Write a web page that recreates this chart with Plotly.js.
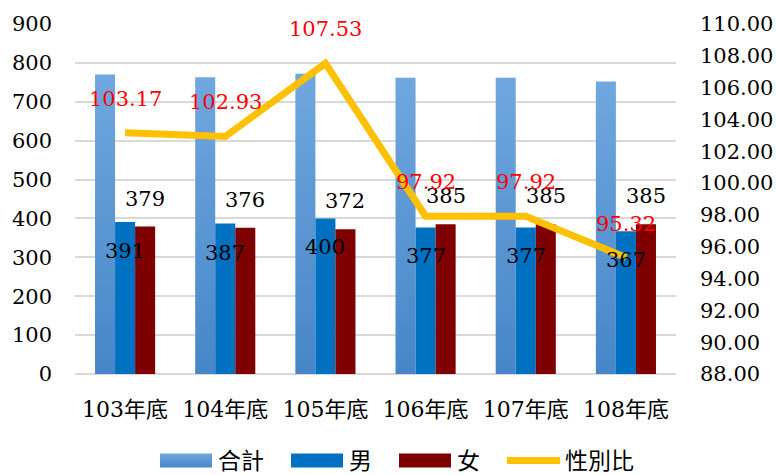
<!DOCTYPE html>
<html>
<head>
<meta charset="utf-8">
<script src="https://cdn.plot.ly/plotly-3.0.1.min.js"></script>
<style>
  body { margin: 0; background: #fff; }
  #chart { width: 776px; height: 475px; }
</style>
</head>
<body>
<div id="chart"></div>
<script>
var years = ['103年底', '104年底', '105年底', '106年底', '107年底', '108年底'];
var total = [770, 763, 772, 762, 762, 752];
var male = [391, 387, 400, 377, 377, 367];
var female = [379, 376, 372, 385, 385, 385];
var ratio = [103.17, 102.93, 107.53, 97.92, 97.92, 95.32];

var serif = '"DejaVu Serif", "Noto Sans CJK TC", serif';

var data = [{
    x: years, y: total, type: 'bar', name: '合計',
    marker: { color: '#5b9bd5' }
  }, {
    x: years, y: male, type: 'bar', name: '男',
    marker: { color: '#0070c0' }
  }, {
    x: years, y: female, type: 'bar', name: '女',
    marker: { color: '#7f0000' }
  }, {
    x: years, y: ratio, yaxis: 'y2', type: 'scatter', mode: 'lines', name: '性別比',
    line: { color: '#ffc000', width: 7 }
  }
];

// value labels
var notes = [];
years.forEach(function(c, i) {
  notes.push({ x: c, y: male[i], text: String(male[i]), xshift: 0, yshift: -15,
    yanchor: 'top', showarrow: false, font: { size: 21, color: '#000', family: serif } });
  notes.push({ x: c, y: female[i], text: String(female[i]), xshift: 20, yshift: 14,
    yanchor: 'bottom', showarrow: false, font: { size: 21, color: '#000', family: serif } });
  notes.push({ x: c, y: ratio[i], yref: 'y2', text: ratio[i].toFixed(2), yshift: 20,
    yanchor: 'bottom', showarrow: false, font: { size: 21, color: '#ff0000', family: serif } });
});

var layout = {
  width: 776, height: 475,
  margin: { l: 75, r: 100, t: 24, b: 101 },
  paper_bgcolor: '#fff', plot_bgcolor: '#fff',
  font: { family: serif, size: 21, color: '#000' },
  barmode: 'group', bargap: 0.4, bargroupgap: 0,
  showlegend: true,
  legend: { orientation: 'h', xref: 'container', yref: 'container', x: 0.512, xanchor: 'center',
    y: 0.0, yanchor: 'bottom', font: { size: 23, family: serif }, itemwidth: 53,
    traceorder: 'normal' },
  xaxis: { showgrid: false, showline: false, ticks: '', ticklabelstandoff: 20,
    automargin: false, tickfont: { size: 22 } },
  yaxis: { range: [0, 900], dtick: 100, showgrid: true, gridcolor: '#d9d9d9', gridwidth: 2,
    zeroline: true, zerolinecolor: '#d9d9d9', zerolinewidth: 2, ticks: '',
    automargin: false, ticklabelstandoff: 22, tickfont: { size: 21 } },
  yaxis2: { range: [88, 110], dtick: 2, tickformat: '.2f', overlaying: 'y', side: 'right',
    showgrid: false, zeroline: false, ticks: '', automargin: false,
    ticklabelstandoff: 23, tickfont: { size: 21 } },
  annotations: notes
};

Plotly.newPlot('chart', data, layout, { displayModeBar: false, staticPlot: true }).then(function(gd) {
  // soft vertical gradient on the 合計 bars, like the spreadsheet original
  var ns = 'http://www.w3.org/2000/svg';
  var defs = gd.querySelector('svg.main-svg defs');
  var grad = document.createElementNS(ns, 'linearGradient');
  grad.setAttribute('id', 'totGrad');
  grad.setAttribute('x1', '0'); grad.setAttribute('y1', '0');
  grad.setAttribute('x2', '0'); grad.setAttribute('y2', '1');
  [['0', '#70a7df'], ['1', '#4686c8']].forEach(function(s) {
    var st = document.createElementNS(ns, 'stop');
    st.setAttribute('offset', s[0]);
    st.setAttribute('stop-color', s[1]);
    grad.appendChild(st);
  });
  defs.appendChild(grad);
  gd.querySelectorAll('.barlayer .trace')[0].querySelectorAll('path').forEach(function(p) {
    p.style.fill = 'url(#totGrad)';
  });

  // wide legend swatches, spread out like the original
  gd.querySelectorAll('.legend [clip-path]').forEach(function(el) {
    el.removeAttribute('clip-path');
  });
  var items = Array.prototype.slice.call(gd.querySelectorAll('.legend .traces'));
  var pos = [], ys = [], x = 0;
  items.forEach(function(g, i) {
    g.querySelectorAll('.legendpoints path').forEach(function(p) {
      if (i < 3) {
        p.setAttribute('d', 'M5,7V-7H57V7Z');
        p.removeAttribute('transform');
        if (i === 0) p.style.fill = 'url(#totGrad)';
      } else {
        p.setAttribute('d', 'M9,0H53');
        p.style.strokeWidth = '8px';
        p.style.strokeLinecap = 'round';
      }
    });
    var t = g.querySelector('text.legendtext');
    t.setAttribute('x', 63);
    var m = /translate\(([-\d.]+)[ ,]+([-\d.]+)\)/.exec(g.getAttribute('transform') || '');
    ys.push(m ? parseFloat(m[2]) : 0);
    pos.push(x);
    x += 63 + t.getBBox().width + 22;
  });
  function place(dx, dy) {
    items.forEach(function(g, i) {
      g.setAttribute('transform', 'translate(' + (pos[i] + dx) + ',' + (ys[i] + dy) + ')');
    });
  }
  place(0, 0);
  var l = items[0].querySelector('.legendpoints path').getBoundingClientRect().left;
  var r = items[3].querySelector('text.legendtext').getBoundingClientRect().right;
  place(397 - (l + r) / 2, 7);
});
</script>
</body>
</html>
